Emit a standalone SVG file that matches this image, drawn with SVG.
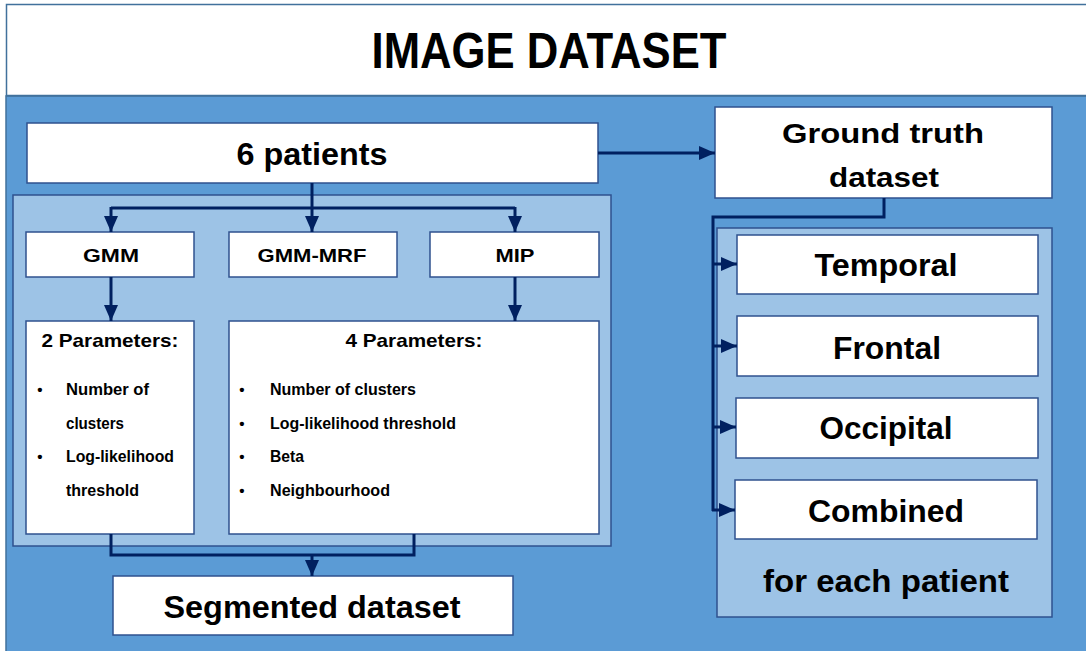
<svg xmlns="http://www.w3.org/2000/svg" width="1086" height="651" viewBox="0 0 1086 651">
<defs>
<marker id="ah" markerUnits="userSpaceOnUse" markerWidth="17" markerHeight="15" refX="16" refY="7" orient="auto">
<path d="M0,0 L16,7 L0,14 z" fill="#002060"/>
</marker>
<style>
.bg{fill:#5B9BD5;stroke:#41719C;stroke-width:1.5}
.hdr{fill:#FFFFFF;stroke:#41719C;stroke-width:1.5}
.lt{fill:#9DC3E6;stroke:#2F528F;stroke-width:1.5}
.bx{fill:#FFFFFF;stroke:#2F528F;stroke-width:1.5}
.t{font-family:"Liberation Sans",Arial,sans-serif;font-weight:bold;fill:#000000}
.c{text-anchor:middle}
.ln{fill:none;stroke:#002060;stroke-width:3}
.ar{fill:none;stroke:#002060;stroke-width:3;marker-end:url(#ah)}
</style>
</defs>
<rect x="-2" y="-2" width="1090" height="655" fill="#FFFFFF"/>
<g id="background">
<rect class="bg" x="6" y="96" width="1090" height="570"/>
<rect class="hdr" x="6.5" y="4.5" width="1090" height="91"/>
<text class="t c" x="549" y="68" font-size="50" textLength="355" lengthAdjust="spacingAndGlyphs">IMAGE DATASET</text>
</g>
<g id="segmentation-group">
<rect class="lt" x="13" y="195" width="598" height="351"/>
</g>
<g id="ground-truth-group">
<rect class="lt" x="717" y="228" width="335" height="389"/>
<text class="t c" x="886" y="592" font-size="31" textLength="246" lengthAdjust="spacingAndGlyphs">for each patient</text>
</g>
<g id="patients">
<rect class="bx" x="27" y="123" width="571" height="60"/>
<text class="t c" x="312" y="165" font-size="31" textLength="151" lengthAdjust="spacingAndGlyphs">6 patients</text>
</g>
<g id="ground-truth">
<rect class="bx" x="715" y="107" width="337" height="91"/>
<text class="t c" x="883" y="143" font-size="28" textLength="202" lengthAdjust="spacingAndGlyphs">Ground truth</text>
<text class="t c" x="884" y="187" font-size="28" textLength="110" lengthAdjust="spacingAndGlyphs">dataset</text>
</g>
<g id="gmm">
<rect class="bx" x="26" y="232" width="168" height="45"/>
<text class="t c" x="111" y="262" font-size="19" textLength="56" lengthAdjust="spacingAndGlyphs">GMM</text>
</g>
<g id="gmm-mrf">
<rect class="bx" x="229" y="232" width="168" height="45"/>
<text class="t c" x="312" y="262" font-size="19" textLength="109" lengthAdjust="spacingAndGlyphs">GMM-MRF</text>
</g>
<g id="mip">
<rect class="bx" x="430" y="232" width="169" height="45"/>
<text class="t c" x="515" y="262" font-size="19" textLength="39" lengthAdjust="spacingAndGlyphs">MIP</text>
</g>
<g id="params2">
<rect class="bx" x="26" y="321" width="168" height="213"/>
<text class="t c" x="110" y="347" font-size="19" textLength="137" lengthAdjust="spacingAndGlyphs">2 Parameters:</text>
<text class="t c" x="40" y="395" font-size="15">•</text>
<text class="t" x="66" y="395" font-size="17" textLength="83" lengthAdjust="spacingAndGlyphs">Number of</text>
<text class="t" x="66" y="429" font-size="17" textLength="58" lengthAdjust="spacingAndGlyphs">clusters</text>
<text class="t c" x="40" y="462" font-size="15">•</text>
<text class="t" x="66" y="462" font-size="17" textLength="108" lengthAdjust="spacingAndGlyphs">Log-likelihood</text>
<text class="t" x="66" y="496" font-size="17" textLength="73" lengthAdjust="spacingAndGlyphs">threshold</text>
</g>
<g id="params4">
<rect class="bx" x="229" y="321" width="370" height="213"/>
<text class="t c" x="414" y="347" font-size="19" textLength="137" lengthAdjust="spacingAndGlyphs">4 Parameters:</text>
<text class="t c" x="242" y="395" font-size="15">•</text>
<text class="t" x="270" y="395" font-size="17" textLength="146" lengthAdjust="spacingAndGlyphs">Number of clusters</text>
<text class="t c" x="242" y="429" font-size="15">•</text>
<text class="t" x="270" y="429" font-size="17" textLength="186" lengthAdjust="spacingAndGlyphs">Log-likelihood threshold</text>
<text class="t c" x="242" y="462" font-size="15">•</text>
<text class="t" x="270" y="462" font-size="17" textLength="34" lengthAdjust="spacingAndGlyphs">Beta</text>
<text class="t c" x="242" y="496" font-size="15">•</text>
<text class="t" x="270" y="496" font-size="17" textLength="120" lengthAdjust="spacingAndGlyphs">Neighbourhood</text>
</g>
<g id="segmented">
<rect class="bx" x="113" y="576" width="400" height="59"/>
<text class="t c" x="312" y="618" font-size="32" textLength="297" lengthAdjust="spacingAndGlyphs">Segmented dataset</text>
</g>
<g id="temporal">
<rect class="bx" x="737" y="235" width="301" height="59"/>
<text class="t c" x="886" y="276" font-size="31" textLength="143" lengthAdjust="spacingAndGlyphs">Temporal</text>
</g>
<g id="frontal">
<rect class="bx" x="737" y="316" width="301" height="60"/>
<text class="t c" x="887" y="359" font-size="31" textLength="108" lengthAdjust="spacingAndGlyphs">Frontal</text>
</g>
<g id="occipital">
<rect class="bx" x="736" y="398" width="302" height="60"/>
<text class="t c" x="886" y="439" font-size="31" textLength="133" lengthAdjust="spacingAndGlyphs">Occipital</text>
</g>
<g id="combined">
<rect class="bx" x="735" y="480" width="302" height="59"/>
<text class="t c" x="886" y="522" font-size="31" textLength="156" lengthAdjust="spacingAndGlyphs">Combined</text>
</g>
<g id="connectors">
<path class="ar" d="M598,153 L715,153"/>
<path class="ln" d="M111,208 L515,208"/>
<path class="ar" d="M312,183 L312,232"/>
<path class="ar" d="M111,207 L111,232"/>
<path class="ar" d="M515,207 L515,232"/>
<path class="ar" d="M111,277 L111,321"/>
<path class="ar" d="M515,277 L515,321"/>
<path class="ln" d="M111,534 L111,555 L414,555 L414,534"/>
<path class="ar" d="M312,554 L312,576"/>
<path class="ln" d="M884,198 L884,217 L713,217 L713,511"/>
<path class="ar" d="M712,264 L737,264"/>
<path class="ar" d="M712,346 L737,346"/>
<path class="ar" d="M712,427 L736,427"/>
<path class="ar" d="M712,510 L735,510"/>
</g>
</svg>
